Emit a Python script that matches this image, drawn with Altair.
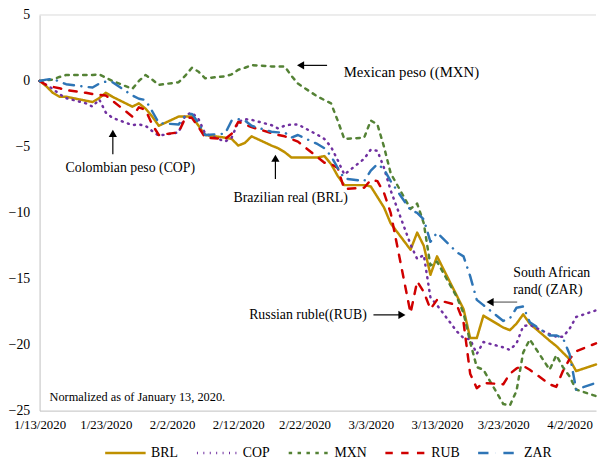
import altair as alt
import pandas as pd

SERIF = "Liberation Serif, Tinos, Noto Serif, DejaVu Serif, FreeSerif, serif"

currencies = ["BRL", "COP", "MXN", "RUB", "ZAR"]
colors = ["#BF9000", "#7030A0", "#548235", "#D00000", "#2E75B6"]
dashes = [[1, 0], [1, 5.5], [3.5, 5.5], [7.5, 8.5], [10.5, 7.5, 0.1, 7.5]]

# business days 1/13/2020 .. 4/6/2020 (61 days)
dates = pd.bdate_range("2020-01-13", "2020-04-06")

brl = [0, -0.4, -0.9, -1.2, -1.2,
       -1.5, -1.6, -1.3, -0.9, -1.2,
       -1.95, -1.7, -2.1, -2.7, -3.4,
       -2.7, -2.7, -2.7, -3.4, -4.1,
       -4.3, -4.4, -4.9, -4.7, -4.2,
       -4.9, -5.1, -5.4, -5.8, -5.8,
       -5.8, -5.7, -6.3, -7.2, -7.9,
       -7.9, -8.0, -8.8, -9.6, -10.8,
       -12.8, -11.5, -12.5, -14.7, -13.3,
       -16.3, -17.3, -19.5, -19.5, -17.8,
       -18.7, -18.9, -18.4, -17.7, -18.4,
       -19.7, -20.1, -20.6, -21.1, -22.0,
       -21.5]
cop = [0, -0.3, -0.6, -1.0, -1.3,
       -1.7, -1.95, -1.4, -2.4, -2.8,
       -3.35, -3.3, -3.4, -3.8, -4.15,
       -3.9, -2.6, -2.4, -2.9, -4.0,
       -4.6, -4.3, -3.1, -2.9, -2.95,
       -3.35, -3.6, -3.4, -3.3, -3.3,
       -4.1, -4.4, -5.0, -6.0, -7.1,
       -5.9, -5.2, -5.3, -6.6, -8.3,
       -12.4, -13.5, -13.2, -16.4, -17.0,
       -19.0, -19.5, -19.6, -20.7, -19.8,
       -20.2, -20.4, -19.9, -18.6, -18.5,
       -19.2, -19.4, -19.4, -18.8, -17.9,
       -17.4]
mxn = [0, 0.05, 0.1, 0.3, 0.45,
       0.45, 0.45, 0.5, 0.25, 0.0,
       -0.6, 0.0, 0.45, 0.1, -0.3,
       -0.1, 0.4, 1.0, 0.7, 0.2,
       0.35, 0.5, 0.85, 1.0, 1.2,
       1.1, 1.1, 1.1, 0.4, -0.2,
       -1.2, -1.45, -1.7, -3.0, -4.4,
       -4.3, -3.0, -3.3, -5.0, -7.0,
       -9.7, -9.3, -10.8, -14.0, -13.7,
       -16.4, -17.6, -19.8, -21.7, -21.9,
       -24.5, -24.6, -23.5, -20.6, -19.6,
       -21.9, -20.8, -21.7, -22.4, -23.4,
       -23.9]
rub = [0, -0.3, -0.45, -0.55, -0.7,
       -0.9, -1.0, -1.05, -1.1, -1.5,
       -2.7, -2.0, -2.2, -3.3, -4.1,
       -3.9, -2.8, -2.8, -3.5, -4.3,
       -4.4, -4.0, -3.1, -3.3, -3.5,
       -3.95, -4.1, -4.2, -4.4, -4.6,
       -5.8, -6.2, -6.3, -6.6, -8.2,
       -8.1, -7.5, -7.6, -8.5, -10.0,
       -17.6, -15.2, -16.0, -17.3, -16.6,
       -17.0, -18.3, -22.2, -23.3, -22.9,
       -23.0, -22.2, -21.8, -21.6, -21.9,
       -23.0, -23.2, -22.0, -21.1, -20.5,
       -19.9]
zar = [0, 0.1, 0.15, -0.05, -0.25,
       -0.45, -0.5, -0.2, -0.05, -0.1,
       -1.1, -1.35, -1.45, -2.3, -3.2,
       -3.3, -2.6, -2.5, -3.2, -4.1,
       -4.0, -3.0, -2.9, -3.0, -3.4,
       -3.85, -3.9, -3.9, -4.3, -4.1,
       -4.8, -5.1, -5.7, -6.6, -7.4,
       -7.6, -6.8, -6.3, -6.7, -7.6,
       -9.8, -10.0, -10.5, -12.2, -11.5,
       -13.0, -13.3, -14.8, -16.6, -17.0,
       -18.2, -18.0, -17.2, -17.1, -18.3,
       -19.3, -19.3, -19.5, -20.7, -23.4,
       -22.9]

x_tick_dates = ["2020-01-13", "2020-01-23", "2020-02-02", "2020-02-12", "2020-02-22",
                "2020-03-03", "2020-03-13", "2020-03-23", "2020-04-02"]
y_ticks = [5, 0, -5, -10, -15, -20, -25]

# annotations (day offsets from 1/13/2020, values in chart units)
ann_text = ["Mexican peso ((MXN)", "Colombian peso (COP)", "Brazilian real (BRL)",
            "Russian ruble((RUB)", "South African", "rand( (ZAR)",
            "Normalized as of January 13, 2020."]
ann_day = [45.9, 13.7, 37.9, 49.4, 71.5, 71.5, 1.5]
ann_val = [0.68, -6.62, -8.87, -17.74, -14.59, -15.86, -23.98]
ann_align = ["left", "center", "center", "right", "left", "left", "left"]
ann_size = [15, 14, 14, 14, 14, 14, 12.5]

arrow_day1 = [43.4, 11.06, 35.6, 50.4, 72.1]
arrow_val1 = [1.18, -5.56, -7.44, -17.74, -16.77]
arrow_day2 = [39.6, 11.06, 35.6, 54.6, 68.2]
arrow_val2 = [1.18, -3.9, -5.8, -17.74, -16.77]
arrow_gray = [False, False, False, False, True]
head_day = [39.4, 11.06, 35.6, 54.7, 68.0]
head_val = [1.18, -3.98, -5.86, -17.74, -16.77]
head_shape = ["triangle-left", "triangle-up", "triangle-up", "triangle-right", "triangle-left"]

base = pd.Timestamp("2020-01-13")


def day(d):
    return base + pd.to_timedelta(d, unit="D")


rows = []
for cur, vals in zip(currencies, [brl, cop, mxn, rub, zar]):
    for d, v in zip(dates, vals):
        rows.append({"date": d, "currency": cur, "value": v})
df = pd.DataFrame(rows)

ann_df = pd.DataFrame({"t": ann_text, "d": [day(x) for x in ann_day], "v": ann_val,
                       "align": ann_align, "size": ann_size})
arrow_df = pd.DataFrame({"d1": [day(x) for x in arrow_day1], "v1": arrow_val1,
                         "d2": [day(x) for x in arrow_day2], "v2": arrow_val2,
                         "gray": arrow_gray})
head_df = pd.DataFrame({"d": [day(x) for x in head_day], "v": head_val, "shape": head_shape})


def dt(s):
    t = pd.Timestamp(s)
    return alt.DateTime(year=t.year, month=t.month, date=t.day)


# legend symbol: a 41px horizontal stroke drawn from a small symbol box
legend = alt.Legend(title=None, orient="none", direction="horizontal",
                    legendX=80, legendY=437, symbolType="M-4.1,0H4.1", symbolSize=100,
                    symbolStrokeWidth=2.5, labelFont=SERIF, labelFontSize=14,
                    labelColor="black", columnPadding=13, labelOffset=19)

x_enc = alt.X("date:T",
              scale=alt.Scale(domain=[dt("2020-01-13"), dt("2020-04-06")]),
              axis=alt.Axis(values=[dt(s) for s in x_tick_dates], format="%-m/%-d/%Y",
                            title=None, ticks=False, grid=False, labelFont=SERIF,
                            labelFontSize=13, labelColor="black", domainColor="#bfbfbf",
                            labelPadding=8, labelOverlap=False, labelFlush=False))
y_enc = alt.Y("value:Q",
              scale=alt.Scale(domain=[-25, 5], nice=False, zero=False),
              axis=alt.Axis(values=y_ticks, title=None, ticks=False, grid=False,
                            labelFont=SERIF, labelFontSize=14, labelColor="black",
                            domainColor="#bfbfbf", labelPadding=10))

lines = alt.Chart(df).mark_line(strokeWidth=2.5, strokeCap="round", strokeJoin="round").encode(
    x=x_enc,
    y=y_enc,
    color=alt.Color("currency:N", scale=alt.Scale(domain=currencies, range=colors), legend=legend),
    strokeDash=alt.StrokeDash("currency:N", scale=alt.Scale(domain=currencies, range=dashes),
                              legend=legend),
)

top_rule = alt.Chart(pd.DataFrame({"v": [5]})).mark_rule(color="#d9d9d9", strokeWidth=1).encode(
    y=alt.Y("v:Q", title=None))

text_layers = []
for al in ["left", "center", "right"]:
    text_layers.append(
        alt.Chart(ann_df).transform_filter(alt.datum.align == al).mark_text(
            align=al, baseline="middle", font=SERIF, color="black").encode(
            x=alt.X("d:T", title=None), y=alt.Y("v:Q", title=None),
            text="t:N", size=alt.Size("size:Q", scale=None)))

arrows_black = alt.Chart(arrow_df).transform_filter("!datum.gray").mark_rule(
    color="black", strokeWidth=1.2).encode(
    x=alt.X("d1:T", title=None), x2="d2:T", y=alt.Y("v1:Q", title=None), y2="v2:Q")
arrows_gray = alt.Chart(arrow_df).transform_filter("datum.gray").mark_rule(
    color="#808080", strokeWidth=1.5).encode(
    x=alt.X("d1:T", title=None), x2="d2:T", y=alt.Y("v1:Q", title=None), y2="v2:Q")
heads = alt.Chart(head_df).mark_point(filled=True, color="black", opacity=1, size=70).encode(
    x=alt.X("d:T", title=None), y=alt.Y("v:Q", title=None),
    shape=alt.Shape("shape:N", scale=None))

chart = alt.layer(lines, top_rule, *text_layers, arrows_black, arrows_gray, heads).properties(
    width=564, height=401,
    padding={"left": 0, "right": 0, "top": -3, "bottom": 0},
).configure_view(stroke=None)

chart.save("out.html", embed_options={"renderer": "svg", "actions": False})
